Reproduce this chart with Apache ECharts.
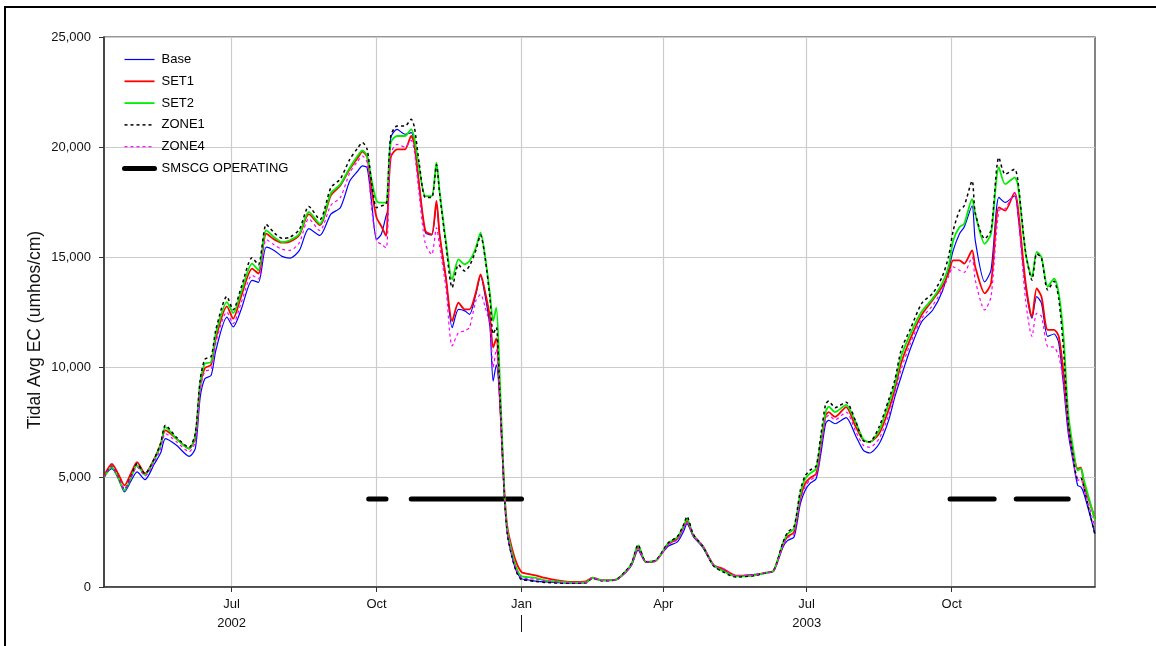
<!DOCTYPE html>
<html>
<head>
<meta charset="utf-8">
<script src="https://cdn.jsdelivr.net/npm/echarts@6/dist/echarts.min.js"></script>
<style>
html,body{margin:0;padding:0;background:#fff;}
#chart{position:absolute;left:0;top:0;width:1156px;height:646px;}
#frame{position:absolute;left:4px;top:6px;width:1200px;height:700px;border-left:2px solid #000;border-top:2px solid #000;pointer-events:none;}
</style>
</head>
<body>
<div id="chart"></div>
<div id="frame"></div>
<script>
const dates = ['2002-04-11','2002-04-16','2002-04-20','2002-04-24','2002-04-28','2002-05-02','2002-05-07','2002-05-13','2002-05-17','2002-05-20',
'2002-05-27','2002-06-04','2002-06-08','2002-06-11','2002-06-14','2002-06-18','2002-06-21','2002-06-28','2002-07-02','2002-07-07',
'2002-07-14','2002-07-18','2002-07-23','2002-07-28','2002-08-02','2002-08-07','2002-08-13','2002-08-19','2002-08-26','2002-09-02',
'2002-09-08','2002-09-14','2002-09-19','2002-09-22','2002-09-25','2002-09-28','2002-10-01','2002-10-04','2002-10-07','2002-10-08',
'2002-10-10','2002-10-14','2002-10-19','2002-10-23','2002-10-25','2002-10-28','2002-11-01','2002-11-05','2002-11-08','2002-11-10',
'2002-11-14','2002-11-18','2002-11-22','2002-11-26','2002-11-29','2002-12-03','2002-12-06','2002-12-09','2002-12-12','2002-12-14',
'2002-12-16','2002-12-18','2002-12-21','2002-12-23','2002-12-26','2002-12-29','2003-01-01','2003-01-05','2003-01-10','2003-01-16',
'2003-01-24','2003-02-02','2003-02-11','2003-02-15','2003-02-21','2003-03-02','2003-03-08','2003-03-12','2003-03-16','2003-03-21',
'2003-03-27','2003-04-04','2003-04-10','2003-04-14','2003-04-16','2003-04-20','2003-04-26','2003-05-03','2003-05-09','2003-05-17',
'2003-05-28','2003-06-05','2003-06-10','2003-06-16','2003-06-19','2003-06-23','2003-06-27','2003-06-30','2003-07-03','2003-07-07',
'2003-07-10','2003-07-13','2003-07-15','2003-07-19','2003-07-26','2003-08-01','2003-08-06','2003-08-10','2003-08-16','2003-08-22',
'2003-08-26','2003-08-30','2003-09-05','2003-09-12','2003-09-19','2003-09-25','2003-09-29','2003-10-02','2003-10-06','2003-10-09',
'2003-10-14','2003-10-16','2003-10-22','2003-10-26','2003-10-31','2003-11-04','2003-11-10','2003-11-12','2003-11-17','2003-11-21',
'2003-11-24','2003-11-27','2003-12-01','2003-12-05','2003-12-08','2003-12-11','2003-12-14','2003-12-17','2003-12-20','2003-12-22',
'2003-12-24','2003-12-31'];

const base = [5030,5380,4950,4320,4800,5230,4880,5600,6100,6740,
6440,5940,6300,8600,9470,9620,10760,12270,11820,12600,
13940,13850,15450,15300,15030,14950,15300,16290,15980,16950,
17240,18450,18900,19140,19060,17400,15800,16030,16860,17090,
20420,20800,20580,20650,20200,18300,16110,16000,17400,16000,
14060,11790,12620,12550,12390,13300,14150,13200,11800,9360,
10100,8700,4300,2420,1360,680,380,330,270,230,
200,180,200,400,290,320,650,1000,1670,1120,
1180,1850,2050,2550,2880,2300,1800,950,780,500,
560,640,720,1820,2120,2270,3790,4390,4700,4920,
6060,7420,7570,7420,7700,6890,6210,6090,6510,7570,
8650,9570,10860,12060,12590,13420,14400,15300,16060,16360,
17330,15750,13870,14400,17710,17480,17780,17000,13650,12220,
13200,12900,11390,11500,11090,9200,7000,5760,4620,4550,
4240,2420];

const set1 = [5050,5600,5150,4620,5150,5680,5150,5830,6500,7120,
6740,6290,6800,9100,9950,10100,11300,12760,12200,13200,
14470,14250,16060,15800,15650,15700,16000,16950,16450,17800,
18250,19000,19500,19790,19550,18000,16790,16410,15960,16940,
19520,19890,19890,20500,20100,18300,16180,16030,17550,16030,
14060,12090,12920,12620,12620,13380,14210,13380,12240,10880,
11300,9000,4500,2730,1740,1060,680,600,530,410,
300,230,260,420,310,340,680,1060,1790,1140,
1180,1950,2200,2750,3000,2350,1870,1000,830,520,
530,650,740,1950,2300,2500,4050,4700,4950,5150,
6450,7800,7950,7730,8180,7300,6670,6600,6970,8050,
9000,10180,11310,12370,13050,13650,14250,14850,14850,14700,
15300,14550,13350,13800,17260,17110,17930,17300,13800,12290,
13570,13200,11690,11690,11390,9730,7470,6140,5380,5420,
4700,3100];

const set2 = [4980,5450,4950,4390,4950,5530,5100,5800,6450,7270,
6740,6290,6900,9200,10150,10230,11510,12950,12450,13400,
14700,14400,16210,15900,15680,15760,16060,17050,16510,17900,
18300,19060,19600,19850,19590,18450,17550,17470,17470,18000,
20200,20500,20500,20800,20400,19060,17770,17770,19290,18000,
15730,13980,14890,14670,14820,15420,16110,14970,13300,12090,
12700,9900,4450,2570,1550,830,485,450,420,300,
250,200,210,410,300,340,700,1080,1890,1150,
1190,1980,2270,2800,3110,2370,1850,980,720,480,
520,640,740,1990,2420,2650,4240,4920,5150,5380,
6670,7950,8200,7950,8280,7500,6700,6590,7120,8330,
9220,10480,11540,12520,13120,13800,14550,15750,16360,16510,
17630,16960,15600,16060,19070,18310,18610,18300,15150,14100,
15230,15000,13650,14020,13340,11390,7920,6360,5300,5380,
4850,3030];

const zone1 = [5000,5500,5000,4450,5000,5600,5150,5850,6550,7350,
6800,6350,7000,9400,10350,10480,11700,13210,12600,13600,
14970,14650,16480,16100,15850,15900,16250,17300,16700,18150,
18550,19440,19950,20200,19900,18300,17240,17320,17400,17900,
20500,20950,20950,21260,20900,19300,17700,17700,19200,17900,
15580,13610,14650,14360,14600,15300,16000,14900,13100,11500,
11800,9200,4350,2400,1350,650,330,300,250,210,
180,170,190,400,280,330,720,1100,1920,1150,
1200,2000,2300,2850,3210,2400,1850,950,680,450,
510,640,740,2050,2500,2750,4400,5050,5300,5500,
6900,8300,8450,8150,8400,7550,6650,6600,7290,8500,
9420,10780,11760,12890,13350,14100,15000,16200,17110,17330,
18460,17000,15830,16210,19520,18760,18990,18500,15200,13950,
15150,14950,13500,13900,13100,10800,7500,6000,4920,4950,
4500,2350];

const zone4 = [5000,5500,5000,4450,4950,5450,5050,5700,6300,6970,
6600,6150,6600,8900,9800,9900,11100,12500,11970,12900,
14170,14000,15790,15550,15350,15300,15650,16740,16200,17350,
17700,18830,19350,19590,19300,17100,15730,15580,15420,16030,
19700,20120,20000,20300,19800,17850,15580,15120,16330,15500,
13610,10960,11560,11640,11800,13000,13300,12700,11900,10000,
10800,8800,4350,2500,1450,750,430,380,350,280,
230,200,210,410,300,330,670,1040,1750,1140,
1180,1920,2150,2700,2950,2350,1860,1000,830,520,
540,650,730,1900,2250,2400,3950,4550,4850,5050,
6300,7650,7800,7600,7950,7100,6440,6350,6750,7800,
8800,9900,11100,12200,12800,13500,14100,14550,14400,14300,
15000,13950,12590,13200,17110,17200,17900,17100,13000,11390,
12440,12300,10930,10900,10480,9300,7200,5900,4850,4900,
4450,2730];

const smscgStart = ['2002-09-26','2002-10-23','2003-09-30','2003-11-11'];
const smscgEnd   = ['2002-10-07','2003-01-01','2003-10-28','2003-12-14'];
const smscgLevel = 4000;

const quarterTicks = ['2002-07-01','2002-10-01','2003-01-01','2003-04-01','2003-07-01','2003-10-01'];
const yearBreakTicks = ['2003-01-01'];
const monthNames = ['Jan','Feb','Mar','Apr','May','Jun','Jul','Aug','Sep','Oct','Nov','Dec'];
const xMin = '2002-04-11';
const xMax = '2003-12-31';

function toTime(s){ const p = s.split('-'); return new Date(+p[0], +p[1]-1, +p[2]).getTime(); }

const FONT = '"Liberation Sans", Arial, sans-serif';

const smscgData = [];
smscgStart.forEach((s, i) => {
  smscgData.push([toTime(s), smscgLevel]);
  smscgData.push([toTime(smscgEnd[i]), smscgLevel]);
  if (i < smscgStart.length - 1) smscgData.push([toTime(smscgEnd[i]) + 3600000, '-']);
});

function mk(vals){ return dates.map((d, i) => [toTime(d), vals[i]]); }

const hideSym = {opacity:0, color:'rgba(0,0,0,0)', borderWidth:0};

const chart = echarts.init(document.getElementById('chart'), null, {renderer:'canvas'});
const option = {
  animation: false,
  backgroundColor: '#fff',
  grid: {left:104, right:61, top:37, bottom:59, show:true, borderColor:'#333', borderWidth:1.2, backgroundColor:'transparent'},
  legend: {
    orient:'vertical', left:122, top:53, padding:0,
    itemWidth:30, itemHeight:14, itemGap:8.8,
    itemStyle: hideSym,
    textStyle:{fontSize:13, fontFamily:FONT, color:'#000', padding:[0,0,0,2]},
    data:[
      {name:'Base', lineStyle:{width:1.2}, itemStyle:hideSym},
      {name:'SET1', lineStyle:{width:1.8}, itemStyle:hideSym},
      {name:'SET2', lineStyle:{width:1.8}, itemStyle:hideSym},
      {name:'ZONE1', lineStyle:{width:1.5}, itemStyle:hideSym},
      {name:'ZONE4', lineStyle:{width:1.2}, itemStyle:hideSym},
      {name:'SMSCG OPERATING', lineStyle:{width:5, cap:'round'}, itemStyle:hideSym}
    ]
  },
  xAxis: [{
    type:'value', min:toTime(xMin), max:toTime(xMax),
    axisLine:{show:true, lineStyle:{color:'#333', width:1.5}},
    axisTick:{show:true, length:5, lineStyle:{color:'#333', width:1}, customValues: quarterTicks.map(toTime)},
    axisLabel:{show:true, customValues: quarterTicks.map(toTime), margin:8, fontSize:13, lineHeight:19, fontFamily:FONT, color:'#111',
      formatter: function(v){ const d = new Date(v); const m = monthNames[d.getMonth()]; return d.getMonth() === 6 ? m + '\n' + d.getFullYear() : m; }},
    splitLine:{show:true, lineStyle:{color:'#cccccc', width:1.2}}
  },{
    type:'value', min:toTime(xMin), max:toTime(xMax), position:'bottom', offset:28,
    axisLine:{show:false},
    axisTick:{show:true, length:17, lineStyle:{color:'#111', width:1}, customValues: yearBreakTicks.map(toTime)},
    axisLabel:{show:false},
    splitLine:{show:false}
  }],
  yAxis: {
    type:'value', min:0, max:25000, interval:5000,
    name:'Tidal Avg EC (umhos/cm)', nameLocation:'middle', nameGap:60, nameMoveOverlap:false,
    nameTextStyle:{fontSize:17.5, fontFamily:FONT, color:'#111', padding:[0,36,0,0]},
    axisLine:{show:true, lineStyle:{color:'#333', width:1.5}},
    axisTick:{show:true, length:5, lineStyle:{color:'#333', width:1}},
    axisLabel:{fontSize:13, fontFamily:FONT, color:'#111', margin:13,
      formatter: v => v.toLocaleString('en-US')},
    splitLine:{show:true, lineStyle:{color:'#cccccc', width:1.2}}
  },
  series: [
    {name:'SMSCG OPERATING', type:'line', data:smscgData, symbol:'none', connectNulls:false,
      lineStyle:{color:'#000', width:5, cap:'round'}, itemStyle:{color:'#000'}, z:1},
    {name:'Base', type:'line', data:mk(base), symbol:'none', smooth:0.25,
      lineStyle:{color:'#0000ff', width:1.2}, itemStyle:{color:'#0000ff'}, z:2},
    {name:'SET1', type:'line', data:mk(set1), symbol:'none', smooth:0.25,
      lineStyle:{color:'#ff0000', width:1.8}, itemStyle:{color:'#ff0000'}, z:3},
    {name:'SET2', type:'line', data:mk(set2), symbol:'none', smooth:0.25,
      lineStyle:{color:'#00ee00', width:1.8}, itemStyle:{color:'#00ee00'}, z:4},
    {name:'ZONE1', type:'line', data:mk(zone1), symbol:'none', smooth:0.25,
      lineStyle:{color:'#000000', width:1.5, type:[3,3]}, itemStyle:{color:'#000000'}, z:5},
    {name:'ZONE4', type:'line', data:mk(zone4), symbol:'none', smooth:0.25,
      lineStyle:{color:'#ff00ff', width:1.2, type:[3,3]}, itemStyle:{color:'#ff00ff'}, z:6}
  ]
};
chart.setOption(option);
</script>
</body>
</html>
